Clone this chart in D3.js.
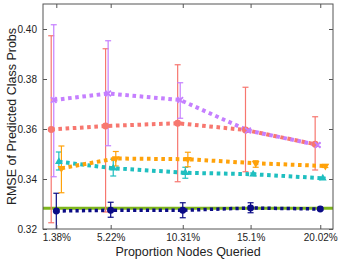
<!DOCTYPE html>
<html>
<head>
<meta charset="utf-8">
<script src="https://cdn.jsdelivr.net/npm/d3@7"></script>
<style>
  body { margin: 0; background: #fff; }
  text { font-family: "Liberation Sans", Arial, sans-serif; fill: #222; }
</style>
</head>
<body>
<svg id="chart" width="341" height="262"></svg>
<script>
// proportion of nodes queried (%)
const queried = [1.38, 5.22, 10.31, 15.1, 20.02];
const tickLabels = ["1.38%", "5.22%", "10.31%", "15.1%", "20.02%"];
const yTicks = [0.32, 0.34, 0.36, 0.38, 0.40];

// mean RMSE and error-bar extents per method
const redMean = [0.3598, 0.3612, 0.3623, 0.3596, 0.3539];
const redLo   = [0.3225, 0.3268, 0.3389, 0.3429, 0.3436];
const redHi   = [0.3973, 0.3921, 0.3857, 0.3767, 0.3649];

const purpleMean = [0.3716, 0.3742, 0.3716, 0.3594, 0.3536];
const purpleLo   = [0.3409, 0.3533, 0.3643, 0.3587, 0.3530];
const purpleHi   = [0.4017, 0.3953, 0.3785, 0.3601, 0.3542];

const orangeMean = [0.3443, 0.3482, 0.3479, 0.3463, 0.3452];
const orangeLo   = [0.3345, 0.3452, 0.3449, 0.3447, 0.3446];
const orangeHi   = [0.3532, 0.3510, 0.3507, 0.3473, 0.3458];

const cyanMean = [0.3469, 0.3443, 0.3425, 0.3419, 0.3403];
const cyanLo   = [0.3436, 0.3412, 0.3403, 0.3414, 0.3399];
const cyanHi   = [0.3508, 0.3479, 0.3447, 0.3424, 0.3407];

const navyMean = [0.3272, 0.3275, 0.3275, 0.3284, 0.3280];
const navyLo   = [0.3198, 0.3247, 0.3245, 0.3265, 0.3275];
const navyHi   = [0.3343, 0.3307, 0.3305, 0.3305, 0.3285];

const baseline = 0.3283;

const series = [
  { mean: redMean, lo: redLo, hi: redHi, color: "#f7776f", marker: "circle", off: -0.36, w: 4 },
  { mean: purpleMean, lo: purpleLo, hi: purpleHi, color: "#c57fff", marker: "cross", off: -0.18, w: 4 },
  { mean: navyMean, lo: navyLo, hi: navyHi, color: "#0b0b86", marker: "circle", off: 0, w: 3.5 },
  { mean: cyanMean, lo: cyanLo, hi: cyanHi, color: "#1fbfc0", marker: "triUp", off: 0.18, w: 4 },
  { mean: orangeMean, lo: orangeLo, hi: orangeHi, color: "#ffa20a", marker: "triDown", off: 0.36, w: 4 }
];

const svg = d3.select("#chart");
const m = { left: 43, right: 8, top: 4, bottom: 33 };
const W = 341, H = 262;

const x = d3.scaleLinear().domain([0.44, 20.92]).range([m.left, W - m.right]);
const y = d3.scaleLinear().domain([0.32, 0.41]).range([H - m.bottom, m.top]);

svg.append("defs").append("clipPath").attr("id", "clip")
  .append("rect")
  .attr("x", m.left).attr("y", m.top)
  .attr("width", W - m.left - m.right).attr("height", H - m.top - m.bottom);

const plot = svg.append("g").attr("clip-path", "url(#clip)");

// baseline
plot.append("line")
  .attr("x1", m.left).attr("x2", W - m.right)
  .attr("y1", y(baseline)).attr("y2", y(baseline))
  .attr("stroke", "#7db51c").attr("stroke-width", 3.2);

// error bars
series.forEach(s => {
  const g = plot.append("g").attr("stroke", s.color).attr("stroke-width", 1.2).attr("fill", "none");
  queried.forEach((q, i) => {
    const cx = x(q + s.off);
    g.append("line").attr("x1", cx).attr("x2", cx).attr("y1", y(s.lo[i])).attr("y2", y(s.hi[i]));
    [s.lo[i], s.hi[i]].forEach(v => {
      g.append("line").attr("x1", cx - 3).attr("x2", cx + 3).attr("y1", y(v)).attr("y2", y(v));
    });
  });
});

// dotted lines
const line = d3.line();
series.forEach(s => {
  plot.append("path")
    .attr("d", line(queried.map((q, i) => [x(q + s.off), y(s.mean[i])])))
    .attr("fill", "none")
    .attr("stroke", s.color)
    .attr("stroke-width", s.w)
    .attr("stroke-dasharray", s.w === 4 ? "3.6,3.6" : "3.2,3.2");
});

// markers
const symbols = {
  circle: d3.symbol().type(d3.symbolCircle).size(38),
  cross: d3.symbol().type(d3.symbolX).size(22),
  triUp: d3.symbol().type(d3.symbolTriangle).size(26),
  triDown: d3.symbol().type(d3.symbolTriangle).size(26)
};
series.forEach(s => {
  queried.forEach((q, i) => {
    const p = plot.append("path")
      .attr("d", symbols[s.marker]())
      .attr("transform", `translate(${x(q + s.off)},${y(s.mean[i])})` + (s.marker === "triDown" ? " rotate(180)" : ""));
    if (s.marker === "cross") p.attr("fill", "none").attr("stroke", s.color).attr("stroke-width", 1.8);
    else p.attr("fill", s.color);
  });
});

// frame
svg.append("rect")
  .attr("x", m.left).attr("y", m.top)
  .attr("width", W - m.left - m.right).attr("height", H - m.top - m.bottom)
  .attr("fill", "none").attr("stroke", "#555").attr("stroke-width", 1);

// axes with inward ticks
const axBottom = svg.append("g").attr("transform", `translate(0,${H - m.bottom})`)
  .call(d3.axisBottom(x).tickValues(queried).tickFormat((d, i) => tickLabels[i]).tickSizeInner(-4).tickSizeOuter(0).tickPadding(5));
const axTop = svg.append("g").attr("transform", `translate(0,${m.top})`)
  .call(d3.axisTop(x).tickValues(queried).tickFormat("").tickSizeInner(-4).tickSizeOuter(0));
const axLeft = svg.append("g").attr("transform", `translate(${m.left},0)`)
  .call(d3.axisLeft(y).tickValues(yTicks).tickFormat(d3.format(".2f")).tickSizeInner(-4).tickSizeOuter(0).tickPadding(6));
const axRight = svg.append("g").attr("transform", `translate(${W - m.right},0)`)
  .call(d3.axisRight(y).tickValues(yTicks).tickFormat("").tickSizeInner(-4).tickSizeOuter(0));

[axBottom, axTop, axLeft, axRight].forEach(a => {
  a.select(".domain").remove();
  a.selectAll(".tick line").attr("stroke", "#555");
  a.selectAll("text").style("font-size", "10px").attr("fill", "#222");
});

svg.append("text")
  .attr("x", (m.left + W - m.right) / 2).attr("y", 256)
  .attr("text-anchor", "middle").style("font-size", "12.5px")
  .text("Proportion Nodes Queried");

svg.append("text")
  .attr("transform", `translate(16,${(m.top + H - m.bottom) / 2}) rotate(-90)`)
  .attr("text-anchor", "middle").style("font-size", "12.5px")
  .text("RMSE of Predicted Class Probs");
</script>
</body>
</html>
